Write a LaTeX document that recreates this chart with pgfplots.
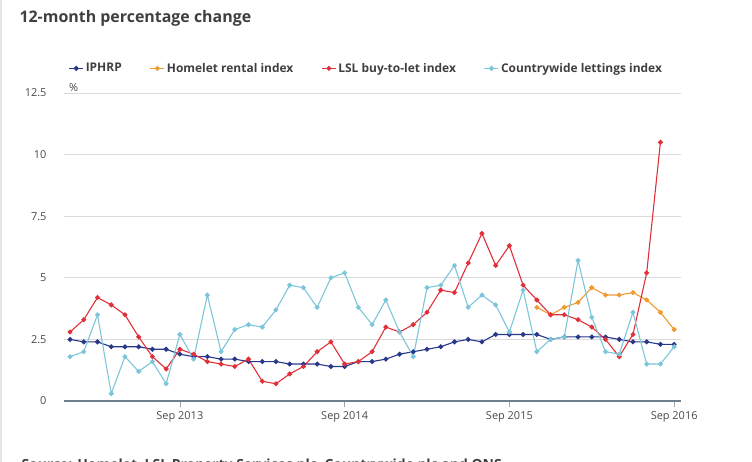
\documentclass[border=0pt]{standalone}
\usepackage{fontspec}
\setmainfont{Open Sans}
\usepackage{pgfplots}
\pgfplotsset{compat=1.18}
\usetikzlibrary{calc}

\definecolor{iphrp}{HTML}{27378A}
\definecolor{homelet}{HTML}{F09A30}
\definecolor{lsl}{HTML}{E0303A}
\definecolor{cwide}{HTML}{7CC6DA}
\definecolor{gridc}{HTML}{DADADA}
\definecolor{axc}{HTML}{6F7F8C}
\definecolor{txt}{HTML}{4A4A4A}

\begin{document}
\begin{tikzpicture}
\begin{axis}[
  name=ax,
  scale only axis,
  width=617bp, height=308bp,
  xmin=-0.44, xmax=44.5,
  ymin=0, ymax=12.5,
  ytick={0,2.5,5,7.5,10,12.5},
  yticklabels={0,2.5,5,7.5,10,12.5},
  xtick={8,20,32,44},
  xticklabels={Sep 2013,Sep 2014,Sep 2015,Sep 2016},
  ymajorgrids,
  grid style={gridc, line width=0.8bp},
  axis y line*=left,
  axis x line*=bottom,
  y axis line style={draw=none},
  x axis line style={axc, line width=1.3bp, -},
  ytick style={draw=none},
  xtick style={axc!70, line width=0.6bp},
  tick align=outside,
  major tick length=6bp,
  ticklabel style={text=txt, font=\fontsize{11}{13}\selectfont},
  yticklabel style={xshift=-8bp},
  xticklabel style={yshift=-1bp},
  /pgf/number format/assume math mode=true,
  legend columns=4,
  legend style={at={(axis description cs:0.49,1.08)}, anchor=center,
    draw=none, fill=none, text=txt!85!black,
    font=\fontsize{12}{14}\selectfont\bfseries,
    /tikz/every even column/.append style={column sep=26bp}},
  legend image code/.code={\draw[mark repeat=2,mark phase=2] plot coordinates {(0bp,0bp) (7bp,0bp) (14bp,0bp)};},
  every axis plot/.append style={line width=1.1bp, mark=*, mark size=1.9bp},
  clip=false,
]
\addplot[iphrp, mark options={fill=iphrp}] coordinates {
(0,2.5)(1,2.4)(2,2.4)(3,2.2)(4,2.2)(5,2.2)(6,2.1)(7,2.1)(8,1.9)(9,1.8)
(10,1.8)(11,1.7)(12,1.7)(13,1.6)(14,1.6)(15,1.6)(16,1.5)(17,1.5)(18,1.5)(19,1.4)
(20,1.4)(21,1.6)(22,1.6)(23,1.7)(24,1.9)(25,2.0)(26,2.1)(27,2.2)(28,2.4)(29,2.5)
(30,2.4)(31,2.7)(32,2.7)(33,2.7)(34,2.7)(35,2.5)(36,2.6)(37,2.6)(38,2.6)(39,2.6)
(40,2.5)(41,2.4)(42,2.4)(43,2.3)(44,2.3)
};
\addlegendentry{IPHRP}
\addplot[homelet, mark options={fill=homelet}] coordinates {
(34,3.8)(35,3.5)(36,3.8)(37,4.0)(38,4.6)(39,4.3)(40,4.3)(41,4.4)(42,4.1)(43,3.6)(44,2.9)
};
\addlegendentry{Homelet rental index}
\addplot[lsl, mark options={fill=lsl}] coordinates {
(0,2.8)(1,3.3)(2,4.2)(3,3.9)(4,3.5)(5,2.6)(6,1.8)(7,1.3)(8,2.1)(9,1.9)
(10,1.6)(11,1.5)(12,1.4)(13,1.7)(14,0.8)(15,0.7)(16,1.1)(17,1.4)(18,2.0)(19,2.4)
(20,1.5)(21,1.6)(22,2.0)(23,3.0)(24,2.8)(25,3.1)(26,3.6)(27,4.5)(28,4.4)(29,5.6)
(30,6.8)(31,5.5)(32,6.3)(33,4.7)(34,4.1)(35,3.5)(36,3.5)(37,3.3)(38,3.0)(39,2.5)
(40,1.8)(41,2.7)(42,5.2)(43,10.5)
};
\addlegendentry{LSL buy-to-let index}
\addplot[cwide, mark options={fill=cwide}] coordinates {
(0,1.8)(1,2.0)(2,3.5)(3,0.3)(4,1.8)(5,1.2)(6,1.6)(7,0.7)(8,2.7)(9,1.7)
(10,4.3)(11,2.0)(12,2.9)(13,3.1)(14,3.0)(15,3.7)(16,4.7)(17,4.6)(18,3.8)(19,5.0)
(20,5.2)(21,3.8)(22,3.1)(23,4.1)(24,2.8)(25,1.8)(26,4.6)(27,4.7)(28,5.5)(29,3.8)
(30,4.3)(31,3.9)(32,2.8)(33,4.5)(34,2.0)(35,2.5)(36,2.6)(37,5.7)(38,3.4)(39,2.0)
(40,1.9)(41,3.6)(42,1.5)(43,1.5)(44,2.2)
};
\addlegendentry{Countrywide lettings index}
\node[anchor=south west, text=txt, font=\fontsize{11}{13}\selectfont, inner sep=1bp] at (axis description cs:0,1) [xshift=4bp] {\%};
\end{axis}
\coordinate (O) at ($(ax.south west)+(-64bp,-61bp)$);
\draw[gridc!70, line width=1.5bp] ($(O)+(1bp,0bp)$) -- ++(0bp,462bp);
\node[anchor=west, text=txt!85!black, font=\fontsize{16}{18}\selectfont\bfseries] at ($(O)+(16bp,444bp)$) {12-month percentage change};
\node[anchor=base west, text=txt!85!black, font=\fontsize{14}{16}\selectfont\bfseries] at ($(O)+(18bp,-7bp)$) {Source: Homelet, LSL Property Services plc, Countrywide plc and ONS};
\pgfresetboundingbox
\useasboundingbox (O) rectangle ($(O)+(752bp,462bp)$);
\end{tikzpicture}
\end{document}
